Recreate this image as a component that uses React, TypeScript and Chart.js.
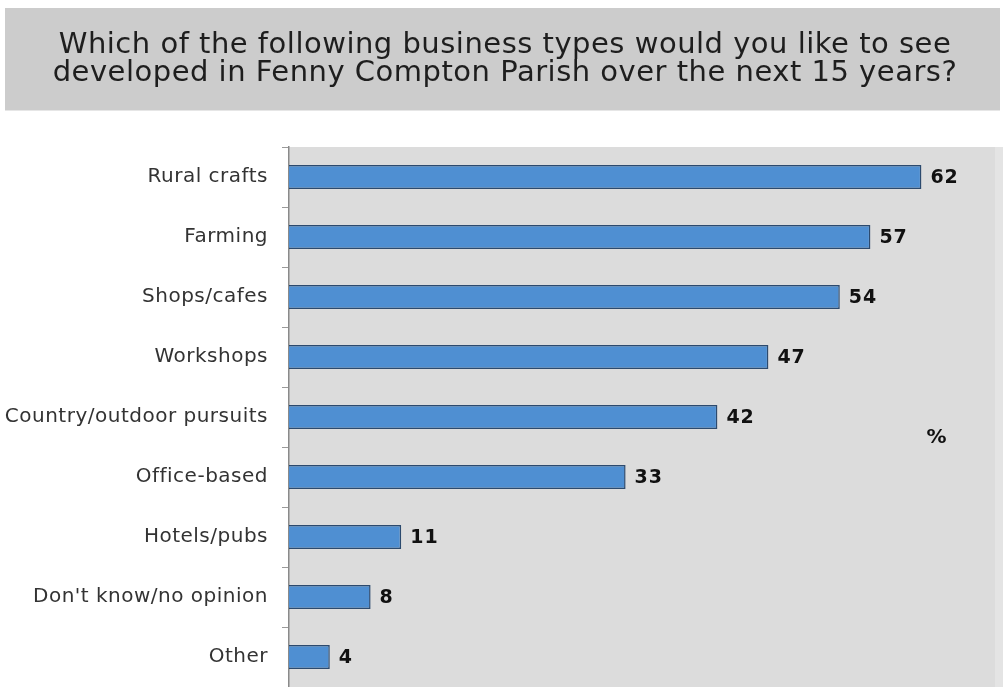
import React, { useEffect, useRef } from "react";
import { Chart, registerables } from "chart.js";

Chart.register(...registerables);

const titleLines = [
  "Which of the following business types would you like to see",
  "developed in Fenny Compton Parish over the next 15 years?",
];
const categories = [
  "Rural crafts",
  "Farming",
  "Shops/cafes",
  "Workshops",
  "Country/outdoor pursuits",
  "Office-based",
  "Hotels/pubs",
  "Don't know/no opinion",
  "Other",
];
const values = [62, 57, 54, 47, 42, 33, 11, 8, 4];
const unitLabel = "%";

const FONT = "'DejaVu Sans', Verdana, sans-serif";

const decorPlugin = {
  id: "decor",
  beforeDraw(chart: any) {
    const ctx = chart.ctx;
    const area = chart.chartArea;
    ctx.save();
    // title box
    ctx.fillStyle = "#cccccc";
    ctx.fillRect(5, 8, 995, 102);
    ctx.fillStyle = "#e6e6e6";
    ctx.fillRect(5, 110, 995, 1);
    // plot background
    ctx.fillStyle = "#dcdcdc";
    ctx.fillRect(area.left, area.top, 995 - area.left, area.bottom - area.top);
    ctx.fillStyle = "#e4e4e4";
    ctx.fillRect(995, area.top, 8, area.bottom - area.top);
    // title text
    ctx.fillStyle = "#1e1e1e";
    ctx.font = `29px ${FONT}`;
    (ctx as any).letterSpacing = "0.5px";
    ctx.textAlign = "center";
    ctx.textBaseline = "alphabetic";
    ctx.fillText(titleLines[0], 505, 53);
    ctx.fillText(titleLines[1], 505, 81);
    ctx.restore();
    // spacing for axis tick labels (Verdana-like width)
    (ctx as any).letterSpacing = "0.5px";
  },
  afterDatasetsDraw(chart: any) {
    const ctx = chart.ctx;
    (ctx as any).letterSpacing = "0px";
    const meta = chart.getDatasetMeta(0);
    ctx.save();
    ctx.fillStyle = "#111111";
    ctx.font = `bold 19px ${FONT}`;
    (ctx as any).letterSpacing = "1px";
    ctx.textAlign = "left";
    ctx.textBaseline = "middle";
    meta.data.forEach((bar: any, i: number) => {
      ctx.fillText(String(values[i]), bar.x + 9, bar.y + 1);
    });
    ctx.font = `bold 20px ${FONT}`;
    ctx.textAlign = "center";
    ctx.fillText(unitLabel, 937, 438);
    ctx.restore();
  },
};

export default function App() {
  const ref = useRef<HTMLCanvasElement>(null);
  useEffect(() => {
    if (!ref.current) return;
    const chart = new Chart(ref.current, {
      type: "bar",
      data: {
        labels: categories,
        datasets: [
          {
            data: values,
            backgroundColor: "#4f8fd2",
            borderColor: "#2c4a6e",
            borderWidth: 1.5,
            borderSkipped: "left",
            barPercentage: 0.4,
            categoryPercentage: 1,
          },
        ],
      },
      options: {
        indexAxis: "y",
        responsive: false,
        animation: false,
        devicePixelRatio: 1,
        layout: { padding: { top: 147, left: 0, right: 0, bottom: 0 } },
        plugins: {
          legend: { display: false },
          title: { display: false },
          tooltip: { enabled: false },
        },
        scales: {
          x: {
            display: false,
            min: 0,
            max: 70,
          },
          y: {
            afterFit(scale: any) {
              scale.width = 289;
              scale.paddingTop = 0;
              scale.paddingBottom = 0;
            },
            border: { display: true, color: "#8a8a8a", width: 1.5 },
            grid: {
              offset: true,
              drawOnChartArea: false,
              drawTicks: true,
              tickLength: 7,
              color: "#9a9a9a",
            },
            ticks: {
              color: "#333333",
              padding: 14,
              font: { family: FONT, size: 20 },
            },
          },
        },
      },
      plugins: [decorPlugin],
    });
    return () => chart.destroy();
  }, []);
  return (
    <canvas
      ref={ref}
      width={1003}
      height={687}
      style={{ position: "absolute", left: 0, top: 0, width: 1003, height: 687, background: "#ffffff" }}
    />
  );
}
